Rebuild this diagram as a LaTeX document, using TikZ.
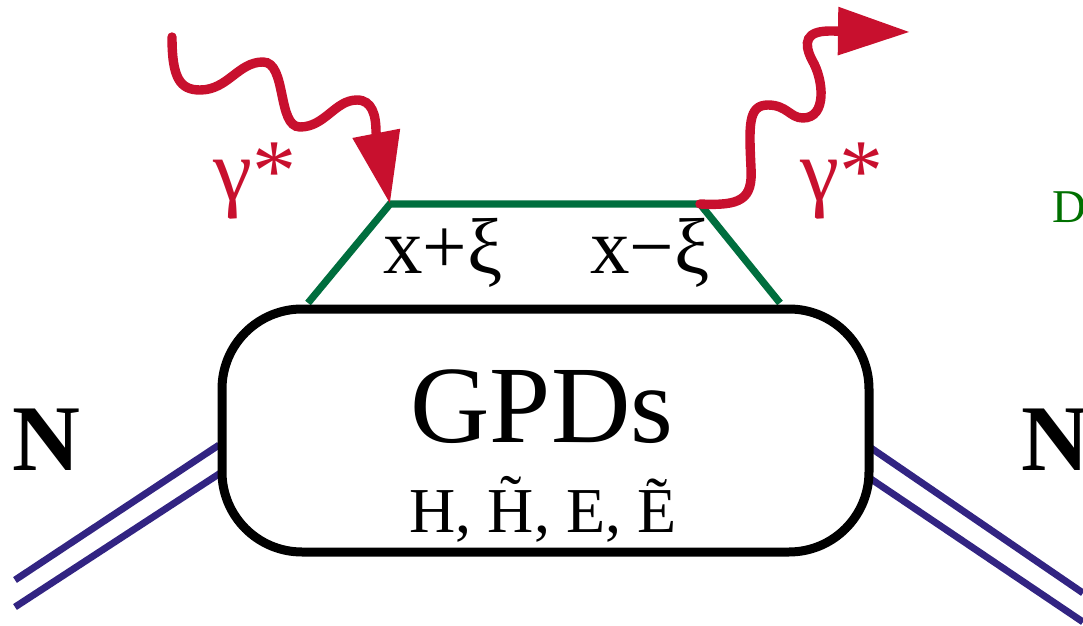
\documentclass[tikz,border=0pt]{standalone}
\usepackage{fontspec}
\setmainfont{Liberation Serif}
\usepackage{tikz}
\usetikzlibrary{arrows.meta}
\definecolor{phred}{RGB}{200,16,46}
\definecolor{qkgreen}{RGB}{0,110,62}
\definecolor{dvgreen}{RGB}{0,112,0}
\definecolor{nucblue}{RGB}{50,36,130}

\begin{document}
\begin{tikzpicture}[x=0.5pt, y=-0.5pt,
  photon/.style={phred, line width=4.7pt, line cap=round,
    -{Triangle[length=36pt, width=23pt]}},
  nucleon/.style={nucblue, line width=3.45pt},
  quark/.style={qkgreen, line width=3.6pt, line join=miter},
  lbl/.style={inner sep=0pt, anchor=base}]
\useasboundingbox (0,0) rectangle (1083,626);
\clip (0,0) rectangle (1083,626);

% ---- quark lines ----
\coordinate (ql)   at (308,303);
\coordinate (qin)  at (390,204);
\coordinate (qout) at (700,204);
\coordinate (qr)   at (780,303);
\draw[quark] (ql) -- (qin) -- (qout) -- (qr);

% ---- nucleon lines ----
\coordinate (nl1) at (15,580);  \coordinate (nl1e) at (219,445);
\coordinate (nl2) at (15,607);  \coordinate (nl2e) at (222,472);
\coordinate (nr1) at (871,448); \coordinate (nr1e) at (1083,593);
\coordinate (nr2) at (868,477); \coordinate (nr2e) at (1083,622);
\draw[nucleon] (nl1) -- (nl1e);
\draw[nucleon] (nl2) -- (nl2e);
\draw[nucleon] (nr1) -- (nr1e);
\draw[nucleon] (nr2) -- (nr2e);

% ---- GPD blob ----
\node[draw, line width=4.5pt, fill=white, rounded corners=40pt,
  minimum width=323.5pt, minimum height=121.5pt] (gpd) at (545.5,430.5) {};
\node[lbl, font=\fontsize{55}{60}\selectfont] (gpdtxt) at (542,442) {GPDs};
\node[lbl, font=\fontsize{32}{36}\selectfont] (gpdfun) at (543,532)
  {H, \~{H}, E, \~{E}};

% ---- momentum fractions ----
\node[lbl, font=\fontsize{39.5}{44}\selectfont] (xpl) at (443,273) {x+ξ};
\node[lbl, font=\fontsize{39.5}{44}\selectfont] (xmi) at (650,273) {x−ξ};

% ---- photons ----
\coordinate (gin)  at (172,37);
\coordinate (gout) at (910,32);
\draw[photon] (gin) .. controls (172,78) and (180,90) .. (200,90)
  .. controls (228,90) and (238,62) .. (263,62)
  .. controls (287,62) and (277,127) .. (300,127)
  .. controls (325,127) and (335,100) .. (357,100)
  .. controls (372,100) and (376,115) .. (376,132)
  -- (qin);
\draw[photon] (qout) .. controls (740,206) and (753,200) .. (751,168)
  .. controls (749,125) and (748,105) .. (768,105)
  .. controls (787,105) and (790,118) .. (803,118)
  .. controls (827,118) and (824,80) .. (812,60)
  .. controls (803,42) and (806,31) .. (830,31)
  -- (gout);
\node[lbl, phred, font=\fontsize{44}{48}\selectfont] (gl) at (255,200) {γ*};
\node[lbl, phred, font=\fontsize{44}{48}\selectfont] (gr) at (842,200) {γ*};

% ---- nucleons ----
\node[lbl, font=\fontsize{47}{50}\selectfont\bfseries] (nin) at (46,470) {N};
\node[lbl, anchor=base west, font=\fontsize{47}{50}\selectfont\bfseries]
  (nout) at (1021,470) {N};
\node[lbl, anchor=base west, dvgreen, font=\fontsize{23.5}{26}\selectfont]
  (dv) at (1052,223) {D};
\end{tikzpicture}
\end{document}
